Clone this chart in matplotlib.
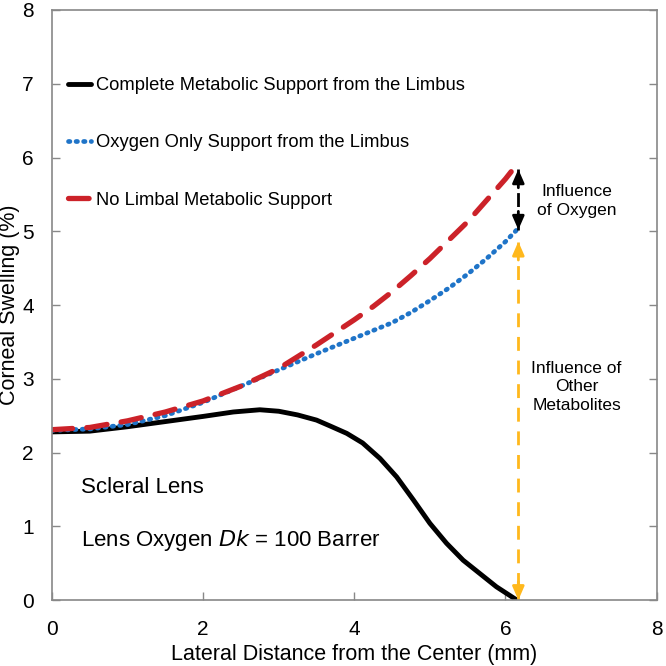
import matplotlib
matplotlib.use('Agg')
import matplotlib.pyplot as plt
import numpy as np

plt.rcParams['font.family'] = ['Liberation Sans', 'DejaVu Sans']

# Complete metabolic support (black)
x_complete = [0.0, 0.5, 1.0, 1.5, 2.0, 2.4, 2.75, 3.0, 3.25, 3.5, 3.68, 3.9, 4.11, 4.34, 4.56,
              4.78, 5.0, 5.22, 5.44, 5.66, 5.88, 6.0, 6.15]
y_complete = [2.28, 2.29, 2.35, 2.42, 2.49, 2.55, 2.58, 2.56, 2.51, 2.44, 2.36, 2.26, 2.13, 1.92, 1.67,
              1.36, 1.04, 0.77, 0.54, 0.36, 0.18, 0.10, 0.0]

# Oxygen only support (blue dotted)
x_oxygen = [0.0, 0.5, 1.0, 1.5, 2.0, 2.5, 3.0, 3.5, 4.0, 4.5, 4.75, 5.0, 5.25, 5.5, 5.75, 6.0, 6.15]
y_oxygen = [2.30, 2.32, 2.38, 2.50, 2.68, 2.90, 3.12, 3.34, 3.55, 3.76, 3.90, 4.06, 4.23, 4.42, 4.63, 4.86, 5.02]

# No limbal support (red dashed)
x_none = [0.0, 0.5, 1.0, 1.5, 2.0, 2.5, 3.0, 3.5, 4.0, 4.25, 4.5, 4.75, 5.0, 5.25, 5.5, 5.75, 6.0, 6.1]
y_none = [2.31, 2.34, 2.43, 2.55, 2.70, 2.90, 3.14, 3.46, 3.80, 3.98, 4.18, 4.40, 4.63, 4.88, 5.13, 5.42, 5.71, 5.84]

labels = ['Complete Metabolic Support from the Limbus',
          'Oxygen Only Support from the Limbus',
          'No Limbal Metabolic Support']

arrow_x = 6.17
oxygen_arrow = (5.84, 5.02)
other_arrow = (4.86, 0.0)

fig = plt.figure(figsize=(6.66, 6.66), dpi=100)
ax = fig.add_axes([0.078, 0.099, 0.908, 0.886])

ax.plot(x_complete, y_complete, color='black', linewidth=3.5, label=labels[0],
        solid_capstyle='round', solid_joinstyle='round')
ax.plot(x_oxygen, y_oxygen, color='#1f74c8', linewidth=3.4, linestyle=(0, (0.3, 1.3)),
        dash_capstyle='round', label=labels[1])
ax.plot(x_none, y_none, color='#cc2229', linewidth=3.8, linestyle=(0, (3.9, 2.7)),
        dash_capstyle='round', label=labels[2])


# double headed dashed arrows
def dashed_arrow(ax, x, y1, y2, color):
    ax.plot([x, x], [y1, y2], color=color, linewidth=2, linestyle=(0, (5, 3.5)))
    for a, b in [(y1, y2), (y2, y1)]:
        d = 0.01 if b > a else -0.01
        ax.annotate('', xy=(x, b), xytext=(x, b - d * 25),
                    arrowprops=dict(arrowstyle='-|>,head_length=0.8,head_width=0.35',
                                    color=color, lw=2, shrinkA=0, shrinkB=0))


dashed_arrow(ax, arrow_x, oxygen_arrow[0], oxygen_arrow[1], 'black')
dashed_arrow(ax, arrow_x, other_arrow[0], other_arrow[1], '#ffb81c')

ax.text(6.94, 5.41, 'Influence\nof Oxygen', ha='center', va='center', fontsize=12.5, linespacing=1.3)
ax.text(6.94, 2.89, 'Influence of\nOther\nMetabolites', ha='center', va='center', fontsize=12.5,
        linespacing=1.3)

ax.text(0.38, 1.53, 'Scleral Lens', ha='left', va='center', fontsize=16)
ax.text(0.38, 0.81, 'Lens Oxygen $\\it{Dk}$ = 100 Barrer', ha='left', va='center', fontsize=16)

leg = ax.legend(loc='upper left', bbox_to_anchor=(0.012, 0.902), frameon=False, fontsize=13.2,
                handlelength=1.25, handletextpad=0.25, labelspacing=2.2, borderpad=0)

ax.set_xlim(0, 8)
ax.set_ylim(0, 8)
ax.set_xticks(np.arange(0, 9, 2))
ax.set_yticks(np.arange(0, 9, 1))
ax.tick_params(direction='in', length=6, width=1, color='#888888', labelsize=15,
               right=True, top=False)
ax.tick_params(axis='x', pad=14)
ax.tick_params(axis='y', pad=13)
for s in ax.spines.values():
    s.set_color('#888888')
    s.set_linewidth(1.2)

ax.set_xlabel('Lateral Distance from the Center (mm)', fontsize=15.5)
ax.set_ylabel('Corneal Swelling (%)', fontsize=15.5)
ax.xaxis.set_label_coords(0.5, -0.075)
ax.yaxis.set_label_coords(-0.053, 0.5)

fig.savefig('out.png', dpi=100)
